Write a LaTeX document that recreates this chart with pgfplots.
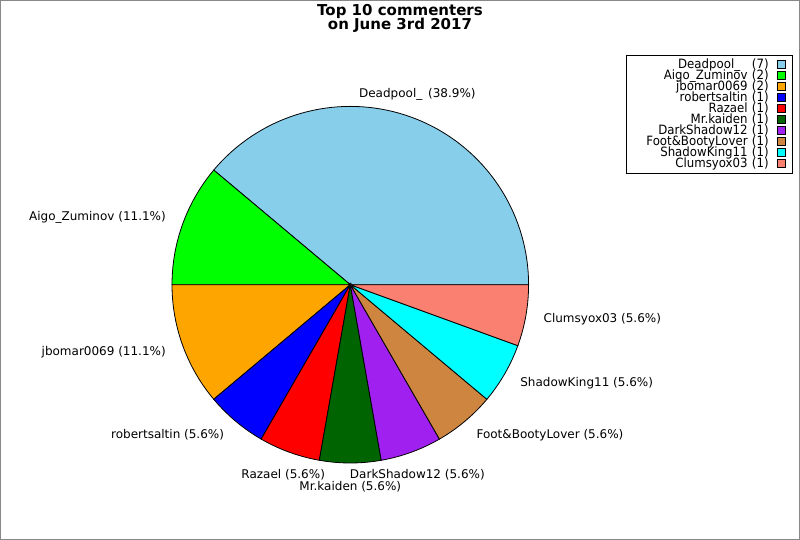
\documentclass[border=0pt]{standalone}
\usepackage{pgfplots}
\pgfplotsset{compat=1.18}
\usepackage{fontspec}
\setmainfont{DejaVu Sans}
\newfontfamily\legfontfam[FakeStretch=0.92]{DejaVu Sans}
\newcommand\legfont{\legfontfam\fontsize{12.8bp}{13bp}\selectfont}
\newcommand\lab{\fontsize{12bp}{14bp}\selectfont}
\newcommand\ttl{\bfseries\fontsize{15bp}{17bp}\selectfont}
\definecolor{cskyblue}{RGB}{135,206,235}
\definecolor{clime}{RGB}{0,255,0}
\definecolor{corange}{RGB}{255,165,0}
\definecolor{cblue}{RGB}{0,0,255}
\definecolor{cred}{RGB}{255,0,0}
\definecolor{cdarkgreen}{RGB}{0,100,0}
\definecolor{cpurple}{RGB}{160,32,240}
\definecolor{cperu}{RGB}{205,133,63}
\definecolor{ccyan}{RGB}{0,255,255}
\definecolor{csalmon}{RGB}{250,128,114}
\definecolor{framegray}{RGB}{136,136,136}
% pie geometry (axis units = px)
\newcommand\cx{350.3}
\newcommand\cy{255.3}
\newcommand\rr{178.3}
\newcommand\total{18}
% #1 = counts before this slice, #2 = count, #3 = colour
\newcommand\slice[3]{%
  \pgfmathsetmacro\sa{#1/\total*360}%
  \pgfmathsetmacro\sb{(#1+#2)/\total*360}%
  \pgfmathtruncatemacro\ns{#2*10+1}%
  \edef\tmp{\noexpand\addplot[fill=#3, draw=black, line width=0.8bp,
     domain=\sa:\sb, samples=\ns, variable=\noexpand\t]
     ({\cx+\rr*cos(\noexpand\t)},{\cy+\rr*sin(\noexpand\t)}) -- (axis cs:\cx,\cy) -- cycle;}%
  \tmp}
% #1 = counts before, #2 = count, #3 = anchor, #4 = text
\newcommand\plabel[4]{%
  \pgfmathsetmacro\mm{(#1+#2/2)/\total*360}%
  \pgfmathsetmacro\lx{\cx+1.1*\rr*cos(\mm)}%
  \pgfmathsetmacro\ly{\cy+1.1*\rr*sin(\mm)}%
  \edef\tmp{\noexpand\node[anchor=#3, inner sep=0pt, font=\noexpand\lab] at (axis cs:\lx,\ly) {\unexpanded{#4}};}%
  \tmp}
\begin{document}
\begin{tikzpicture}
\begin{axis}[
  width=800bp, height=540bp, scale only axis,
  xmin=0, xmax=800, ymin=0, ymax=540,
  hide axis, clip=false,
  legend plot pos=right,
  legend cell align=right,
  legend image code/.code={%
    \path[draw=none, fill=none] (0bp,-5.5bp) rectangle (24bp,5.5bp);
    \draw[#1, line width=0.8bp] (9bp,-3.3bp) rectangle (17bp,4.7bp);},
  legend style={
    at={(axis cs:793,485)}, anchor=north east,
    draw=black, line width=0.8bp,
    inner xsep=0pt, inner ysep=4bp,
    row sep=0pt, column sep=0pt,
    font=\legfont,
    nodes={inner sep=0pt, outer sep=0pt, font=\legfont, text height=9bp, text depth=2bp, text width=142bp, align=right},
  },
]
\draw[framegray, line width=1bp] (axis cs:0.5,0.5) rectangle (axis cs:799.5,539.5);

\slice{0}{7}{cskyblue}   \addlegendentry{Deadpool\_\hspace{7.5bp}\ (7)}
\slice{7}{2}{clime}      \addlegendentry{Aigo\_Zuminov (2)}
\slice{9}{2}{corange}    \addlegendentry{jbomar0069 (2)}
\slice{11}{1}{cblue}     \addlegendentry{robertsaltin (1)}
\slice{12}{1}{cred}      \addlegendentry{Razael (1)}
\slice{13}{1}{cdarkgreen}\addlegendentry{Mr.kaiden (1)}
\slice{14}{1}{cpurple}   \addlegendentry{DarkShadow12 (1)}
\slice{15}{1}{cperu}     \addlegendentry{Foot\&BootyLover (1)}
\slice{16}{1}{ccyan}     \addlegendentry{ShadowKing11 (1)}
\slice{17}{1}{csalmon}   \addlegendentry{Clumsyox03 (1)}

\plabel{0}{7}{south}{Deadpool\_\kern2bp\ (38.9\%)}
\plabel{7}{2}{east}{Aigo\_Zuminov (11.1\%)}
\plabel{9}{2}{east}{jbomar0069 (11.1\%)}
\plabel{11}{1}{east}{robertsaltin (5.6\%)}
\plabel{12}{1}{north}{Razael (5.6\%)}
\plabel{13}{1}{north}{Mr.kaiden (5.6\%)}
\plabel{14}{1}{north}{DarkShadow12 (5.6\%)}
\plabel{15}{1}{west}{Foot\&BootyLover (5.6\%)}
\plabel{16}{1}{west}{ShadowKing11 (5.6\%)}
\plabel{17}{1}{west}{Clumsyox03 (5.6\%)}

\node[anchor=base, inner sep=0pt, font=\ttl] at (axis cs:400,524.7) {Top 10 commenters};
\node[anchor=base, inner sep=0pt, font=\ttl] at (axis cs:400,510.7) {on June 3rd 2017};
\end{axis}
\pgfresetboundingbox
\path (current axis.south west) rectangle (current axis.north east);
\end{tikzpicture}
\end{document}
